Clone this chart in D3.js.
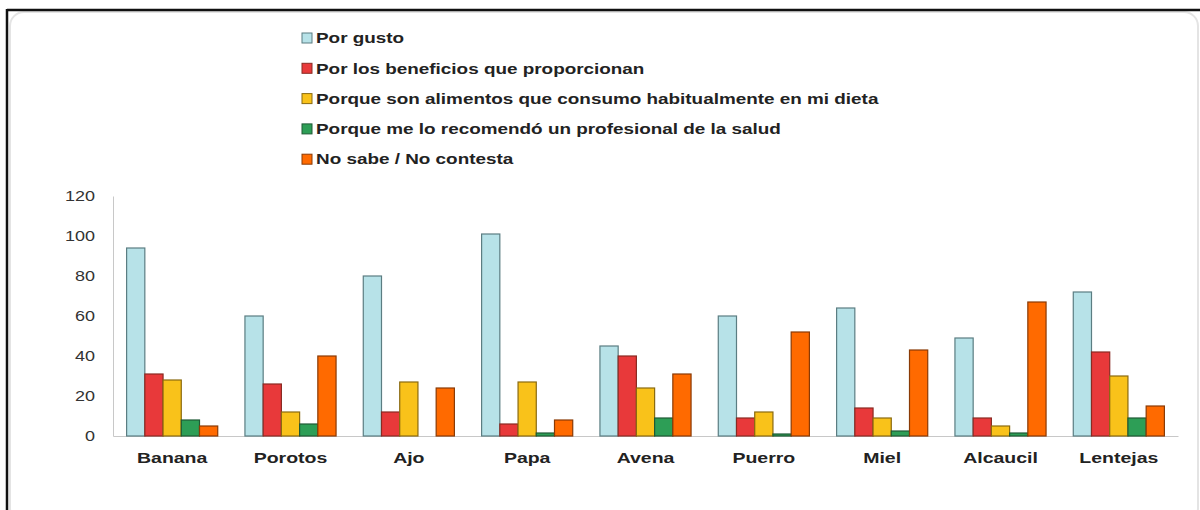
<!DOCTYPE html>
<html><head><meta charset="utf-8">
<script src="https://cdn.jsdelivr.net/npm/d3@7"></script>
<style>body{margin:0;background:#fff}svg{display:block}</style>
</head><body>
<svg id="c" width="1200" height="510"></svg>
<script>
const categories = ["Banana","Porotos","Ajo","Papa","Avena","Puerro","Miel","Alcaucil","Lentejas"];
const seriesNames = ["Por gusto","Por los beneficios que proporcionan","Porque son alimentos que consumo habitualmente en mi dieta","Porque me lo recomendó un profesional de la salud","No sabe / No contesta"];
const porGusto      = [94, 60, 80, 101, 45, 60, 64, 49, 72];
const beneficios    = [31, 26, 12, 6, 40, 9, 14, 9, 42];
const habitual      = [28, 12, 27, 27, 24, 12, 9, 5, 30];
const profesional   = [8, 6, 0, 1.5, 9, 1, 2.5, 1.5, 9];
const noSabe        = [5, 40, 24, 8, 31, 52, 43, 67, 15];
const yTicks = [0, 20, 40, 60, 80, 100, 120];
const colors = ["#b7e2e8","#e8393a","#f9c21a","#2d9e56","#ff6a00"];
const strokes = ["#5b7d82","#8a2a22","#8a6a10","#1e5a35","#8a3a05"];

const series = [porGusto, beneficios, habitual, profesional, noSabe];
const svg = d3.select("#c");
const FONT = "Liberation Sans, Arial, sans-serif";

// frame
svg.append("rect").attr("x",10).attr("y",12).attr("width",1188).attr("height",510)
  .attr("rx",14).attr("fill","#fff").attr("stroke","#e4e4e4").attr("stroke-width",2);
svg.append("line").attr("x1",7).attr("x2",1200).attr("y1",10).attr("y2",10).attr("stroke","#111").attr("stroke-width",2.5);
svg.append("line").attr("x1",7).attr("x2",7).attr("y1",9).attr("y2",510).attr("stroke","#111").attr("stroke-width",2.5);

const x0 = d3.scaleBand().domain(categories).range([113, 1178]).paddingInner(0.23).paddingOuter(0.115);
const x1 = d3.scaleBand().domain(d3.range(5)).range([0, x0.bandwidth()]);
const y = d3.scaleLinear().domain([0,120]).range([436, 196]);

// axes
const yAxis = svg.append("g").attr("transform","translate(113,0)")
  .call(d3.axisLeft(y).tickValues(yTicks).tickSize(0).tickPadding(0));
yAxis.select(".domain").attr("stroke","#c8c8c8");
yAxis.selectAll("text").attr("font-family",FONT).attr("font-size",15).attr("fill","#333")
  .attr("x",0).attr("transform","translate(-18,0) scale(1.2,1)");

const xAxis = svg.append("g").attr("transform","translate(0,436)")
  .call(d3.axisBottom(x0).tickSize(0).tickPadding(16));
xAxis.select(".domain").attr("stroke","#c8c8c8");
xAxis.selectAll("text").attr("font-family",FONT).attr("font-size",15)
  .attr("font-weight","bold").attr("fill","#222").attr("transform","scale(1.3,1)");

// bars
const g = svg.append("g");
categories.forEach((c, ci) => {
  series.forEach((s, si) => {
    const v = s[ci];
    if (v <= 0) return;
    g.append("rect")
      .attr("x", x0(c) + x1(si))
      .attr("y", y(v))
      .attr("width", x1.bandwidth())
      .attr("height", y(0) - y(v))
      .attr("fill", colors[si])
      .attr("stroke", strokes[si])
      .attr("stroke-width", 1.2);
  });
});

// legend
const lg = svg.append("g");
seriesNames.forEach((n, i) => {
  const yy = 38 + i * 30.3;
  lg.append("rect").attr("x",302).attr("y",yy-5).attr("width",10).attr("height",10)
    .attr("fill",colors[i]).attr("stroke",strokes[i]).attr("stroke-width",1);
  lg.append("text").attr("x",0).attr("y",0).attr("dy","0.35em")
    .attr("transform",`translate(316,${yy}) scale(1.26,1)`)
    .attr("font-family",FONT).attr("font-size",15).attr("font-weight","bold")
    .attr("fill","#222").text(n);
});
</script>
</body></html>
